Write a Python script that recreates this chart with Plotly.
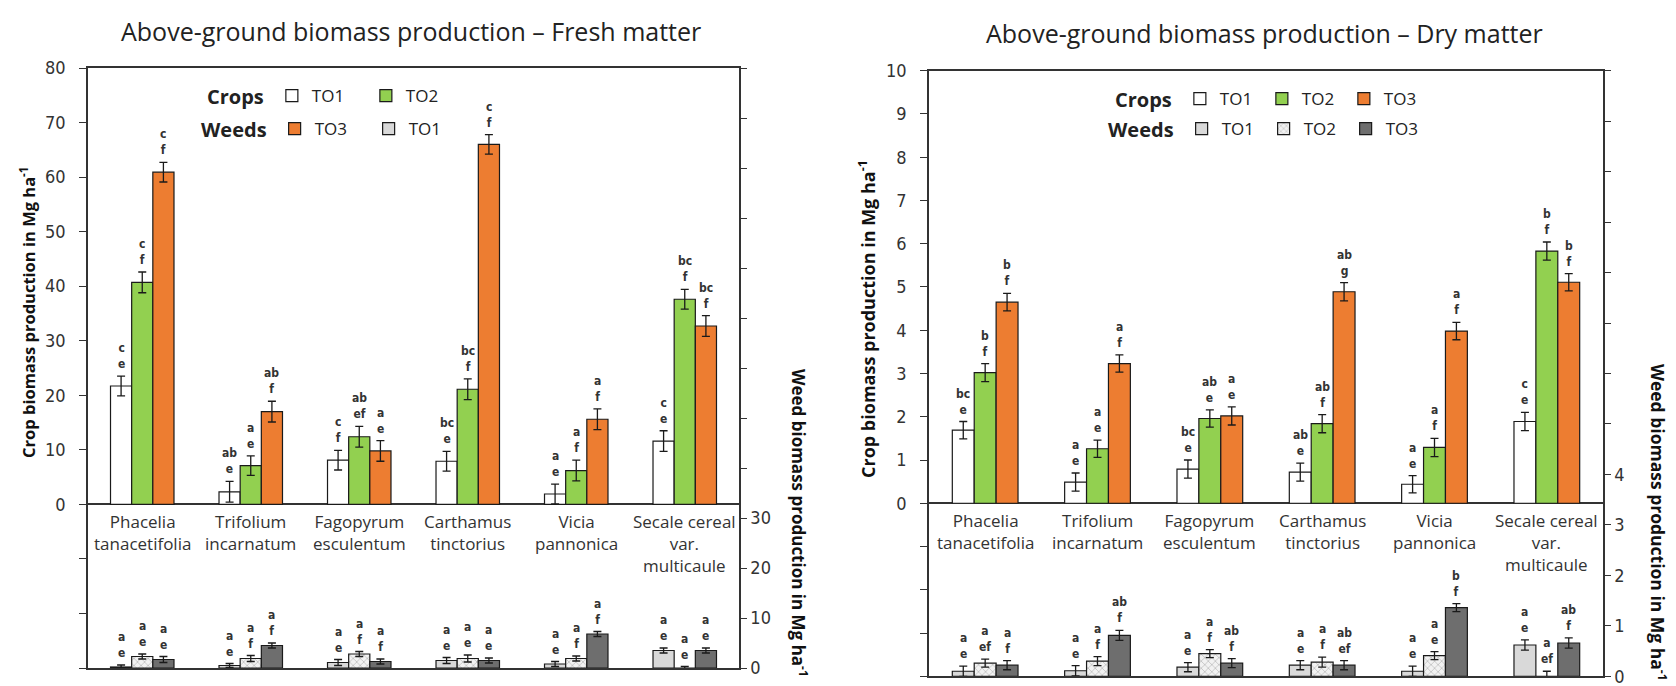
import plotly.graph_objects as go

W, H = 1676, 686

categories = ["Phacelia<br>tanacetifolia", "Trifolium<br>incarnatum", "Fagopyrum<br>esculentum",
              "Carthamus<br>tinctorius", "Vicia<br>pannonica", "Secale cereal<br>var.<br>multicaule"]
treatments = ["TO1", "TO2", "TO3"]

# ---------------- Fresh matter ----------------
fresh_crop_TO1 = [21.7, 2.3, 8.1, 7.9, 1.9, 11.6]
fresh_crop_TO1_err = [1.8, 1.9, 1.8, 1.8, 1.8, 1.9]
fresh_crop_TO2 = [40.7, 7.1, 12.4, 21.1, 6.2, 37.6]
fresh_crop_TO2_err = [1.9, 1.8, 1.9, 1.9, 1.9, 1.8]
fresh_crop_TO3 = [60.9, 17.0, 9.8, 66.0, 15.6, 32.7]
fresh_crop_TO3_err = [1.8, 1.9, 1.9, 1.8, 1.9, 1.9]
fresh_weed_TO1 = [0.2, 0.5, 1.1, 1.5, 0.8, 3.5]
fresh_weed_TO1_err = [0.4, 0.4, 0.6, 0.6, 0.5, 0.5]
fresh_weed_TO2 = [2.3, 1.9, 2.8, 1.9, 1.9, 0.0]
fresh_weed_TO2_err = [0.5, 0.6, 0.5, 0.7, 0.5, 0.3]
fresh_weed_TO3 = [1.7, 4.5, 1.3, 1.5, 6.8, 3.5]
fresh_weed_TO3_err = [0.6, 0.5, 0.5, 0.5, 0.5, 0.5]

fresh_crop_TO1_letters = ["c/e", "ab/e", "c/f", "bc/e", "a/e", "c/e"]
fresh_crop_TO2_letters = ["c/f", "a/e", "ab/ef", "bc/f", "a/f", "bc/f"]
fresh_crop_TO3_letters = ["c/f", "ab/f", "a/e", "c/f", "a/f", "bc/f"]
fresh_weed_TO1_letters = ["a/e", "a/e", "a/e", "a/e", "a/e", "a/e"]
fresh_weed_TO2_letters = ["a/e", "a/f", "a/f", "a/e", "a/f", "a/e"]
fresh_weed_TO3_letters = ["a/e", "a/f", "a/f", "a/e", "a/f", "a/e"]

# ---------------- Dry matter ----------------
dry_crop_TO1 = [1.69, 0.49, 0.79, 0.72, 0.44, 1.89]
dry_crop_TO1_err = [0.20, 0.21, 0.21, 0.21, 0.20, 0.21]
dry_crop_TO2 = [3.02, 1.26, 1.96, 1.84, 1.29, 5.83]
dry_crop_TO2_err = [0.21, 0.20, 0.20, 0.21, 0.21, 0.21]
dry_crop_TO3 = [4.65, 3.23, 2.02, 4.89, 3.98, 5.11]
dry_crop_TO3_err = [0.20, 0.20, 0.21, 0.21, 0.20, 0.20]
dry_weed_TO1 = [0.10, 0.11, 0.18, 0.22, 0.10, 0.62]
dry_weed_TO1_err = [0.10, 0.10, 0.09, 0.09, 0.10, 0.10]
dry_weed_TO2 = [0.26, 0.30, 0.45, 0.28, 0.41, 0.0]
dry_weed_TO2_err = [0.08, 0.09, 0.08, 0.10, 0.08, 0.10]
dry_weed_TO3 = [0.22, 0.81, 0.26, 0.22, 1.36, 0.66]
dry_weed_TO3_err = [0.09, 0.10, 0.09, 0.09, 0.08, 0.10]

dry_crop_TO1_letters = ["bc/e", "a/e", "bc/e", "ab/e", "a/e", "c/e"]
dry_crop_TO2_letters = ["b/f", "a/e", "ab/e", "ab/f", "a/f", "b/f"]
dry_crop_TO3_letters = ["b/f", "a/f", "a/e", "ab/g", "a/f", "b/f"]
dry_weed_TO1_letters = ["a/e", "a/e", "a/e", "a/e", "a/e", "a/e"]
dry_weed_TO2_letters = ["a/ef", "a/f", "a/f", "a/f", "a/e", "a/ef"]
dry_weed_TO3_letters = ["a/f", "ab/f", "ab/f", "ab/ef", "b/f", "ab/f"]

fresh_crop_ticks = [0, 10, 20, 30, 40, 50, 60, 70, 80]
fresh_weed_ticks = [0, 10, 20, 30]
dry_crop_ticks = [0, 1, 2, 3, 4, 5, 6, 7, 8, 9, 10]
dry_weed_ticks = [0, 1, 2, 3, 4]

# ---------------- styles ----------------
CROP_STYLE = [dict(color="white"), dict(color="#92D050"), dict(color="#ED7D31")]
WEED_STYLE = [dict(color="#D9D9D9"),
              dict(color="#F2F2F2", pattern=dict(shape="x", fgcolor="#7F7F7F", bgcolor="#F2F2F2", size=5, solidity=0.25)),
              dict(color="#6E6E6E")]
BAR_W = 0.195
OFFSETS = [-1.5 * BAR_W, -0.5 * BAR_W, 0.5 * BAR_W]
COND = "DejaVu Sans Condensed, Liberation Sans Narrow, Roboto, sans-serif"
TICK_FONT = dict(family=COND, size=18, color="#333333")
LETTER_FONT = dict(family=COND, size=12, color="#333333")
TEXT_FONT = "Open Sans, Noto Sans, sans-serif"


def px(xp):
    return xp / W


def py(yp):
    return 1 - yp / H


idx = list(range(len(categories)))
fig = go.Figure()
annotations = []


def add_group(xa, ya, series, styles, kind, legend_map):
    for k, (vals, err, letters) in enumerate(series):
        st = styles[k]
        lg = legend_map.get((kind, k))
        marker = dict(color=st["color"], line=dict(color="#1a1a1a", width=1.2))
        if "pattern" in st:
            marker["pattern"] = st["pattern"]
        fig.add_trace(go.Bar(
            x=idx, y=vals, xaxis=xa, yaxis=ya, width=BAR_W, offset=OFFSETS[k],
            name=treatments[k], showlegend=lg is not None, legend=lg or "legend",
            marker=marker,
            error_y=dict(type="data", array=err, color="#1a1a1a", thickness=1.3, width=4),
            hoverinfo="skip"))
        for i in idx:
            up, low = letters[i].split("/")
            annotations.append(dict(
                x=i + OFFSETS[k] + BAR_W / 2, y=vals[i] + err[i], xref=xa, yref=ya,
                text=f"<b>{up}</b><br><b>{low}</b>", showarrow=False,
                xanchor="center", yanchor="bottom", yshift=3, font=LETTER_FONT))


def add_panel(xa, ya_crop, ya_weed, crops, weeds, legend_map):
    add_group(xa, ya_crop, crops, CROP_STYLE, "crop", legend_map)
    add_group(xa, ya_weed, weeds, WEED_STYLE, "weed", legend_map)
    for i in idx:
        annotations.append(dict(
            x=i, y=0, xref=xa, yref=ya_crop, text=categories[i], showarrow=False,
            xanchor="center", yanchor="top", yshift=-4,
            font=dict(family=TEXT_FONT, size=17, color="#333333")))


add_panel("x", "y", "y2",
          [(fresh_crop_TO1, fresh_crop_TO1_err, fresh_crop_TO1_letters),
           (fresh_crop_TO2, fresh_crop_TO2_err, fresh_crop_TO2_letters),
           (fresh_crop_TO3, fresh_crop_TO3_err, fresh_crop_TO3_letters)],
          [(fresh_weed_TO1, fresh_weed_TO1_err, fresh_weed_TO1_letters),
           (fresh_weed_TO2, fresh_weed_TO2_err, fresh_weed_TO2_letters),
           (fresh_weed_TO3, fresh_weed_TO3_err, fresh_weed_TO3_letters)],
          {("crop", 0): "legend", ("crop", 1): "legend", ("crop", 2): "legend2", ("weed", 0): "legend2"})

add_panel("x2", "y3", "y4",
          [(dry_crop_TO1, dry_crop_TO1_err, dry_crop_TO1_letters),
           (dry_crop_TO2, dry_crop_TO2_err, dry_crop_TO2_letters),
           (dry_crop_TO3, dry_crop_TO3_err, dry_crop_TO3_letters)],
          [(dry_weed_TO1, dry_weed_TO1_err, dry_weed_TO1_letters),
           (dry_weed_TO2, dry_weed_TO2_err, dry_weed_TO2_letters),
           (dry_weed_TO3, dry_weed_TO3_err, dry_weed_TO3_letters)],
          {("crop", 0): "legend3", ("crop", 1): "legend3", ("crop", 2): "legend3",
           ("weed", 0): "legend4", ("weed", 1): "legend4", ("weed", 2): "legend4"})


def paper_text(xp, yp, text, size, angle=0, color="#222222"):
    return dict(x=px(xp), y=py(yp), xref="paper", yref="paper", showarrow=False,
                xanchor="center", yanchor="middle", textangle=angle, text=text,
                font=dict(family=TEXT_FONT, size=size, color=color))


annotations += [
    paper_text(403, 23, "Above-ground biomass production – Fresh matter", 25),
    paper_text(1256, 25, "Above-ground biomass production – Dry matter", 25),
    paper_text(20, 305, "<b>Crop biomass production in Mg ha<sup>-1</sup></b>", 16.5, -90, "#111111"),
    paper_text(792, 515, "<b>Weed biomass production in Mg ha<sup>-1</sup></b>", 17, 90, "#111111"),
    paper_text(859, 311, "<b>Crop biomass production in Mg ha<sup>-1</sup></b>", 18, -90, "#111111"),
    paper_text(1651, 514, "<b>Weed biomass production in Mg ha<sup>-1</sup></b>", 17.5, 90, "#111111"),
]


def ticks(rng, step, labeled):
    vals = []
    v = rng[0]
    while v <= rng[1] + 1e-9:
        vals.append(round(v, 6))
        v += step
    text = [(f"{int(t)}" if t in labeled else "") for t in vals]
    return vals, text


xa_common = dict(range=[-0.5, 5.5], showticklabels=False, ticks="", showgrid=False, zeroline=False,
                 showline=True, linecolor="#333333", linewidth=1.5, mirror=True, automargin=False, fixedrange=True)

tv1, tt1 = ticks([-30, 80], 10, fresh_crop_ticks)
tv2, tt2 = ticks([0, 120], 10, fresh_weed_ticks)
tv3, tt3 = ticks([-4, 10], 1, dry_crop_ticks)
tv4, tt4 = ticks([0, 12], 1, dry_weed_ticks)

yl_common = dict(showgrid=False, ticks="outside", ticklen=7, tickcolor="#333333", tickwidth=1.3,
                 showline=True, linecolor="#333333", linewidth=1.5, mirror=True,
                 zeroline=True, zerolinecolor="#333333", zerolinewidth=1.5, ticklabelstandoff=10,
                 tickfont=TICK_FONT, automargin=False, fixedrange=True)
yr_common = dict(showgrid=False, ticks="outside", ticklen=6, tickcolor="#333333", tickwidth=1.3,
                 showline=True, linecolor="#333333", linewidth=1.5, zeroline=False,
                 side="right", tickfont=TICK_FONT, automargin=False, fixedrange=True)

legend_common = dict(orientation="h", bgcolor="rgba(0,0,0,0)", borderwidth=0,
                     font=dict(family=TEXT_FONT, size=17, color="#222222"),
                     entrywidthmode="pixels", xanchor="left", yanchor="middle",
                     tracegroupgap=0, itemclick=False, itemdoubleclick=False)

fig.update_layout(
    width=W, height=H, margin=dict(l=0, r=0, t=0, b=0),
    paper_bgcolor="white", plot_bgcolor="white", barmode="overlay",
    xaxis=dict(domain=[px(80), px(731)], anchor="y", **xa_common),
    yaxis=dict(domain=[py(660), py(60)], range=[-30, 80], tickvals=tv1, ticktext=tt1, anchor="x", **yl_common),
    yaxis2=dict(range=[0, 120], tickvals=tv2, ticktext=tt2, overlaying="y", anchor="x", **yr_common),
    xaxis2=dict(domain=[px(921), px(1595)], anchor="y3", **xa_common),
    yaxis3=dict(domain=[py(668.3), py(62.7)], range=[-4, 10], tickvals=tv3, ticktext=tt3, anchor="x2", **yl_common),
    yaxis4=dict(range=[0, 12], tickvals=tv4, ticktext=tt4, overlaying="y3", anchor="x2", **yr_common),
    legend=dict(x=px(197), y=py(88), title=dict(text="<b>Crops</b>", side="left"), entrywidth=49, **legend_common),
    legend2=dict(x=px(191), y=py(121), title=dict(text="<b>Weeds</b>", side="left"), entrywidth=49, **legend_common),
    legend3=dict(x=px(1105), y=py(91), title=dict(text="<b>Crops</b>", side="left"), entrywidth=37, **legend_common),
    legend4=dict(x=px(1098), y=py(121), title=dict(text="<b>Weeds</b>", side="left"), entrywidth=37, **legend_common),
    annotations=annotations,
    showlegend=True,
)

fig.write_html("out.html")
